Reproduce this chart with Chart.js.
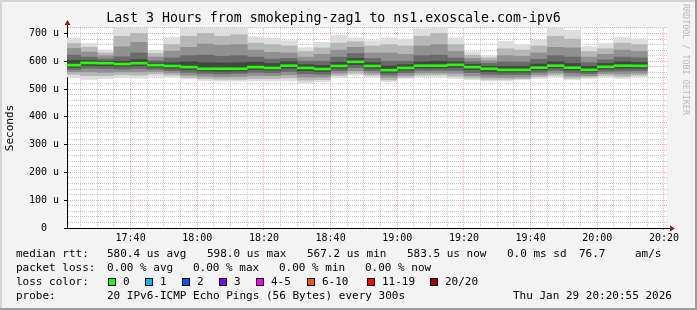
<!DOCTYPE html>
<html>
<head>
<meta charset="utf-8">
<script src="https://cdn.jsdelivr.net/npm/chart.js@4.4.1/dist/chart.umd.min.js"></script>
<style>
  html, body { margin: 0; padding: 0; background: #f3f3f3; }
  #wrap { position: relative; width: 697px; height: 310px; overflow: hidden; }
  #graph { position: absolute; left: 0; top: 0; }
  .t { position: absolute; font-family: "DejaVu Sans Mono", monospace; font-size: 11px; line-height: 14px; white-space: pre; color: #000; }
  .sq { position: absolute; width: 6px; height: 6px; border: 1px solid #000; }
  #wm { position: absolute; left: 681px; top: 4px; width: 112px; height: 10px;
        font-family: "DejaVu Sans Mono", monospace; font-size: 8.4px; line-height: 10px; color: #b8b8b8;
        white-space: pre; transform-origin: 0 0; transform: translate(10px, 0) rotate(90deg); }
</style>
</head>
<body>
<div id="wrap">
  <canvas id="graph" width="697" height="310"></canvas>
  <div id="wm">RRDTOOL / TOBI OETIKER</div>

  <div class="t" style="left:16px;top:247px">median rtt:</div>
  <div class="t" style="left:107px;top:247px">580.4 us avg</div>
  <div class="t" style="left:207px;top:247px">598.0 us max</div>
  <div class="t" style="left:307px;top:247px">567.2 us min</div>
  <div class="t" style="left:407px;top:247px">583.5 us now</div>
  <div class="t" style="left:507px;top:247px">0.0 ms sd</div>
  <div class="t" style="left:579px;top:247px">76.7</div>
  <div class="t" style="left:635px;top:247px">am/s</div>

  <div class="t" style="left:16px;top:261px">packet loss:</div>
  <div class="t" style="left:107px;top:261px">0.00 % avg</div>
  <div class="t" style="left:193px;top:261px">0.00 % max</div>
  <div class="t" style="left:279px;top:261px">0.00 % min</div>
  <div class="t" style="left:365px;top:261px">0.00 % now</div>

  <div class="t" style="left:16px;top:275px">loss color:</div>
  <div id="losskey"></div>

  <div class="t" style="left:16px;top:289px">probe:</div>
  <div class="t" style="left:107px;top:289px">20 IPv6-ICMP Echo Pings (56 Bytes) every 300s</div>
  <div class="t" style="left:513px;top:289px">Thu Jan 29 20:20:55 2026</div>
</div>

<script>
// 5 minute slots, end time of each slot (first one is cut by the 3h window)
var slots = ['17:25','17:30','17:35','17:40','17:45','17:50','17:55','18:00','18:05','18:10',
             '18:15','18:20','18:25','18:30','18:35','18:40','18:45','18:50','18:55','19:00',
             '19:05','19:10','19:15','19:20','19:25','19:30','19:35','19:40','19:45','19:50',
             '19:55','20:00','20:05','20:10','20:15'];

// median rtt per slot (us)
var median = [586,594,593,590,593,586,583,579,573,573, 573,579,576,584,576,572,583,598,583,568,
              576,584,584,587,579,573,569,569,577,584, 577,569,580,584,583.5];

// smoke: sorted pings, outer to inner (us)
var pingMax = [684,664,641,730,730,640,685,730,730,730, 730,688,683,674,649,668,693,684,674,684,
               680,717,730,684,634,621,672,661,676,730, 711,652,664,685,681];
var ping18  = [664,650,630,690,700,628,660,690,700,690, 695,665,660,655,635,648,665,670,655,660,
               655,690,700,660,622,612,645,640,655,690, 680,635,645,665,660];
var ping16  = [646,633,620,652,668,615,636,650,662,658, 660,640,632,630,615,625,640,650,630,630,
               625,655,660,635,610,602,620,618,630,650, 648,615,625,640,635];
var ping14  = [622,615,608,616,630,602,612,620,622,618, 620,615,608,610,600,600,615,628,610,600,
               600,620,622,612,598,592,598,597,607,620, 615,595,605,615,612];
var ping12  = [604,603,600,600,606,594,595,598,595,594, 595,597,592,598,588,585,596,610,595,583,
               588,598,600,598,589,582,582,582,590,598, 592,582,592,598,596];
var ping9   = [578,585,584,582,585,579,575,570,565,564, 565,570,568,575,566,563,575,588,575,560,
               568,576,576,578,570,563,561,561,569,576, 568,562,572,575,575];
var ping7   = [570,575,574,572,574,571,566,560,556,554, 556,560,558,563,555,553,566,577,566,551,
               559,567,567,567,559,553,552,552,560,567, 558,555,564,565,566];
var ping5   = [562,562,560,562,562,563,558,550,546,544, 545,549,548,551,543,543,557,566,557,542,
               550,558,558,556,548,543,542,543,551,558, 547,548,556,554,557];
var ping3   = [553,548,548,552,550,555,550,542,537,535, 535,538,538,540,532,534,549,557,550,533,
               543,550,551,546,540,535,535,537,544,550, 539,543,549,545,550];
var pingMin = [543,534,537,542,539,546,543,536,530,528, 528,530,530,530,522,527,542,550,544,527,
               538,544,544,538,533,529,529,533,538,544, 533,538,544,538,544];

var lossLabels = ['0','1','2','3','4-5','6-10','11-19','20/20'];
var lossColors = ['#26ff00','#00b8ff','#0059ff','#7e00ff','#ff00ff','#ff5500','#ff0000','#a10000'];

var yTicksMax = 720;
var winStart = 17 * 3600 + 20 * 60 + 55;   // 17:20:55
var winEnd = winStart + 3 * 3600;          // 20:20:55

function toSec(s) {
  var p = s.split(':');
  return p[0] * 3600 + p[1] * 60;
}
function hhmm(v) {
  var h = Math.floor(v / 3600), m = Math.floor((v % 3600) / 60);
  return h + ':' + (m < 10 ? '0' : '') + m;
}

// loss colour key
var keyPos = [108, 145, 182, 219, 256, 307, 367, 430];
var key = document.getElementById('losskey');
lossLabels.forEach(function(lbl, i) {
  var sq = document.createElement('div');
  sq.className = 'sq';
  sq.style.left = keyPos[i] + 'px';
  sq.style.top = '278px';
  sq.style.background = lossColors[i];
  key.appendChild(sq);
  var t = document.createElement('div');
  t.className = 't';
  t.style.left = (keyPos[i] + 15) + 'px';
  t.style.top = '275px';
  t.textContent = lbl;
  key.appendChild(t);
});

var centers = slots.map(function(s) { return toSec(s) - 150; });
function band(lo, hi) {
  return centers.map(function(x, i) { return { x: x, y: [lo[i], hi[i]] }; });
}
var MED_HALF = 3.6;
var medianData = centers.map(function(x, i) { return { x: x, y: [median[i] - MED_HALF, median[i] + MED_HALF] }; });

var tickTimes = [];
for (var t = toSec('17:25'); t <= winEnd; t += 300) tickTimes.push(t);

var mono = '"DejaVu Sans Mono", monospace';

var frame = {
  id: 'frame',
  beforeDraw: function(chart) {
    var c = chart.ctx, a = chart.chartArea;
    c.save();
    c.fillStyle = '#f3f3f3';
    c.fillRect(0, 0, chart.width, chart.height);
    c.fillStyle = '#d4d4d4';
    c.fillRect(0, 0, chart.width, 2);
    c.fillRect(0, 0, 2, chart.height);
    c.fillStyle = '#9c9c9c';
    c.fillRect(0, chart.height - 2, chart.width, 2);
    c.fillRect(chart.width - 2, 0, 2, chart.height);
    c.fillStyle = '#ffffff';
    c.fillRect(a.left, a.top, a.right - a.left, a.bottom - a.top);
    c.restore();
  },
  afterDraw: function(chart) {
    var c = chart.ctx, a = chart.chartArea;
    c.save();
    c.strokeStyle = '#000';
    c.lineWidth = 1;
    c.beginPath();
    c.moveTo(a.left + 0.5, a.top);
    c.lineTo(a.left + 0.5, a.top - 5);
    c.moveTo(a.right, a.bottom + 0.5);
    c.lineTo(a.right + 5, a.bottom + 0.5);
    c.stroke();
    c.fillStyle = '#8b1a1a';
    c.beginPath();
    c.moveTo(a.left + 0.5, a.top - 8);
    c.lineTo(a.left - 2.5, a.top - 3);
    c.lineTo(a.left + 3.5, a.top - 3);
    c.closePath();
    c.fill();
    c.beginPath();
    c.moveTo(a.right + 8, a.bottom + 0.5);
    c.lineTo(a.right + 3, a.bottom - 2.5);
    c.lineTo(a.right + 3, a.bottom + 3.5);
    c.closePath();
    c.fill();
    c.restore();
  }
};

var ctx = document.getElementById('graph').getContext('2d');
var chart = new Chart(ctx, {
  type: 'bar',
  data: {
    datasets: [
      { data: medianData, backgroundColor: '#26ff00', order: 1 },
      { data: band(ping9, ping12), backgroundColor: '#454545', order: 2 },
      { data: band(ping7, ping14), backgroundColor: '#6b6b6b', order: 3 },
      { data: band(ping5, ping16), backgroundColor: '#919191', order: 4 },
      { data: band(ping3, ping18), backgroundColor: '#b7b7b7', order: 5 },
      { data: band(pingMin, pingMax), backgroundColor: '#dddddd', order: 6 }
    ]
  },
  options: {
    responsive: false,
    animation: false,
    devicePixelRatio: 1,
    layout: { padding: { left: 0, right: 30, top: 0, bottom: 0 } },
    datasets: { bar: { grouped: false, barPercentage: 1, categoryPercentage: 1, borderWidth: 0, clip: 0 } },
    plugins: {
      legend: { display: false },
      tooltip: { enabled: false },
      title: {
        display: true,
        text: 'Last 3 Hours from smokeping-zag1 to ns1.exoscale.com-ipv6',
        color: '#000',
        font: { family: mono, size: 13.25, weight: 'normal' },
        padding: { top: 11, bottom: 1 }
      }
    },
    scales: {
      x: {
        type: 'linear',
        min: winStart,
        max: winEnd,
        offset: false,
        z: 1,
        afterFit: function(s) { s.height = 82; },
        afterBuildTicks: function(s) { s.ticks = tickTimes.map(function(v) { return { value: v }; }); },
        ticks: {
          autoSkip: false, maxRotation: 0, minRotation: 0, padding: 2, color: '#000',
          font: { family: mono, size: 10 },
          callback: function(v) { return v % 1200 === 0 ? hhmm(v) : ''; }
        },
        grid: {
          offset: false,
          color: function(c) { return c.tick && c.tick.value % 1200 === 0 ? 'rgba(235,60,60,0.45)' : 'rgba(120,120,120,0.4)'; },
          tickColor: function(c) { return c.tick && c.tick.value % 1200 === 0 ? 'rgba(235,60,60,0.6)' : 'rgba(0,0,0,0)'; },
          tickLength: 2,
          lineWidth: 1
        },
        border: { display: true, color: '#000', width: 1, dash: [1, 1] }
      },
      y: {
        min: 0,
        max: yTicksMax,
        z: 1,
        afterFit: function(s) { s.width = 67; },
        ticks: {
          stepSize: 20, autoSkip: false, padding: 5, color: '#000',
          font: { family: mono, size: 10 },
          callback: function(v) { return v % 100 === 0 ? (v === 0 ? '0  ' : v + ' u') : ''; }
        },
        grid: {
          color: function(c) { return c.tick && c.tick.value % 100 === 0 ? 'rgba(235,60,60,0.45)' : 'rgba(120,120,120,0.4)'; },
          tickColor: function(c) { return c.tick && c.tick.value % 100 === 0 ? '#000' : 'rgba(0,0,0,0)'; },
          tickLength: 3,
          lineWidth: 1
        },
        border: { display: true, color: '#000', width: 1, dash: [1, 1] },
        title: {
          display: true, text: 'Seconds', color: '#000',
          font: { family: mono, size: 11 },
          padding: { top: 4, bottom: 0 }
        }
      }
    }
  },
  plugins: [frame]
});
</script>
</body>
</html>
